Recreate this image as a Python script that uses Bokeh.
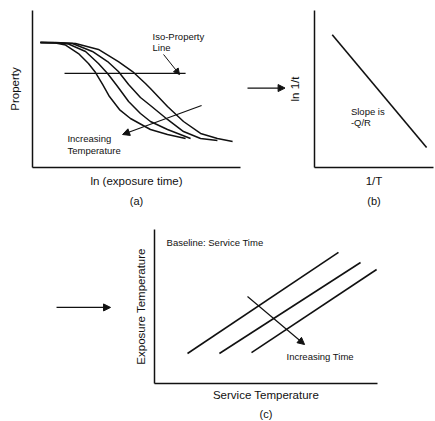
from bokeh.plotting import figure
from bokeh.layouts import column, row
from bokeh.models import Range1d, Arrow, NormalHead, Title, FixedTicker
from bokeh.core.properties import value
from bokeh.embed import file_html
from bokeh.resources import INLINE

FONT = "Liberation Sans"
INK = "#111111"

# ---------------- Panel (a): property vs ln(exposure time) ----------------
curve1_x = [0.38, 1.11, 1.59, 2.21, 2.69, 3.03, 3.37, 3.70, 4.18, 4.71, 5.67, 6.49, 7.36]
curve1_y = [7.96, 7.93, 7.80, 7.26, 6.62, 6.05, 5.29, 4.52, 3.69, 3.12, 2.42, 2.10, 1.85]
curve2_x = [0.38, 1.11, 1.73, 2.55, 3.17, 3.61, 4.09, 4.62, 5.19, 5.67, 6.49, 7.60]
curve2_y = [7.96, 7.94, 7.87, 7.39, 6.62, 5.99, 5.16, 4.20, 3.44, 2.93, 2.42, 1.85]
curve3_x = [0.38, 1.11, 1.92, 2.88, 3.61, 4.13, 4.62, 5.19, 5.67, 6.49, 7.26, 8.08, 8.89]
curve3_y = [7.96, 7.95, 7.90, 7.39, 6.75, 6.11, 5.29, 4.46, 3.95, 3.06, 2.29, 1.85, 1.72]
curve4_x = [0.38, 1.11, 2.07, 3.17, 4.13, 4.81, 5.43, 5.67, 6.49, 7.26, 8.08, 8.89, 9.62]
curve4_y = [7.96, 7.96, 7.90, 7.52, 6.75, 6.11, 5.35, 5.03, 3.89, 2.93, 2.17, 1.85, 1.66]
curves_a = [(curve1_x, curve1_y), (curve2_x, curve2_y), (curve3_x, curve3_y), (curve4_x, curve4_y)]

iso_x = [1.54, 7.36]
iso_y = [5.99, 5.99]
iso_arrow = [6.30, 7.20, 7.07, 5.92]          # x0, y0, x1, y1
temp_arrow = [8.13, 3.95, 4.33, 2.10]
labels_a_x = [5.77, 5.77, 1.68, 1.68]
labels_a_y = [8.34, 7.64, 1.85, 1.08]
labels_a_text = ["Iso-Property", "Line", "Increasing", "Temperature"]

# ---------------- Panel (b): ln 1/t vs 1/T ----------------
arrh_x = [1.49, 9.42]
arrh_y = [8.46, 1.28]
labels_b_x = [3.06, 3.06]
labels_b_y = [3.59, 2.88]
labels_b_text = ["Slope is", "-Q/R"]

# ---------------- Panel (c): exposure vs service temperature ----------------
line1_x = [1.48, 8.25]
line1_y = [1.95, 8.51]
line2_x = [2.91, 9.24]
line2_y = [1.95, 7.86]
line3_x = [4.35, 9.96]
line3_y = [2.01, 7.40]
time_arrow = [4.17, 5.65, 6.73, 2.53]
labels_c_x = [0.54, 5.92]
labels_c_y = [9.16, 1.75]
labels_c_text = ["Baseline:  Service Time", "Increasing Time"]

# connector arrows between panels (same 0-10 units as the neighbouring panel)
conn1 = [0.5, 5.06, 9.9, 5.06]
conn2 = [4.67, 4.94, 9.17, 4.94]


def panel(width, height, left, right, top, bottom, xlabel, ylabel, xstand, ystand, caption, capstand):
    p = figure(width=width, height=height, x_range=Range1d(0, 10), y_range=Range1d(0, 10),
               toolbar_location=None, output_backend="svg", title=None,
               min_border_left=left, min_border_right=right,
               min_border_top=top, min_border_bottom=bottom)
    p.outline_line_color = None
    p.grid.visible = False
    for ax, lab, st in ((p.xaxis[0], xlabel, xstand), (p.yaxis[0], ylabel, ystand)):
        ax.ticker = FixedTicker(ticks=[])
        ax.major_tick_line_color = None
        ax.minor_tick_line_color = None
        ax.major_tick_in = 0
        ax.major_tick_out = 0
        ax.minor_tick_in = 0
        ax.minor_tick_out = 0
        ax.major_label_text_font_size = "0px"
        ax.major_label_standoff = 0
        ax.axis_line_width = 1.5
        ax.axis_line_color = INK
        ax.axis_label = lab
        ax.axis_label_standoff = st
        ax.axis_label_text_font = FONT
        ax.axis_label_text_font_style = "normal"
        ax.axis_label_text_font_size = "11.5px"
        ax.axis_label_text_color = INK
    p.add_layout(Title(text=caption, align="center", text_font=FONT, text_font_size="11px",
                       text_font_style="normal", text_color=INK, standoff=capstand), "below")
    return p


def add_arrow(p, a, width=1.2, size=7):
    p.add_layout(Arrow(end=NormalHead(size=size, fill_color=INK, line_color=INK, line_width=1),
                       x_start=a[0], y_start=a[1], x_end=a[2], y_end=a[3],
                       line_color=INK, line_width=width))


def add_texts(p, xs, ys, texts, size="9.5px"):
    p.text(x=xs, y=ys, text=texts, text_font=value(FONT), text_font_size=size,
           text_align="left", text_baseline="middle", text_color=INK)


def connector(width, height, a):
    p = figure(width=width, height=height, x_range=Range1d(0, 10), y_range=Range1d(0, 10),
               toolbar_location=None, output_backend="svg", x_axis_type=None, y_axis_type=None,
               title=None, min_border=0, min_border_left=0, min_border_right=0,
               min_border_top=0, min_border_bottom=0)
    p.outline_line_color = None
    p.grid.visible = False
    add_arrow(p, a, width=1.3, size=7)
    return p


# panel a
pa = panel(245, 212, 32, 5, 9, 45, "ln (exposure time)", "Property", 7, 12, "(a)", 6)
for cx, cy in curves_a:
    pa.line(cx, cy, line_color=INK, line_width=1.5)
pa.line(iso_x, iso_y, line_color=INK, line_width=1.3)
add_arrow(pa, iso_arrow, width=1.0, size=6)
add_arrow(pa, temp_arrow, width=1.2, size=7)
add_texts(pa, labels_a_x, labels_a_y, labels_a_text)

# panel b
pb = panel(150, 212, 28, 2, 10, 45, "1/T", "ln 1/t", 7, 14, "(b)", 6)
pb.line(arrh_x, arrh_y, line_color=INK, line_width=1.6)
add_texts(pb, labels_b_x, labels_b_y, labels_b_text)

# panel c
pc = panel(315, 209, 34, 58, 17, 38, "Service Temperature", "Exposure Temperature", 5, 8, "(c)", 4)
for lx, ly in ((line1_x, line1_y), (line2_x, line2_y), (line3_x, line3_y)):
    pc.line(lx, ly, line_color=INK, line_width=1.6)
add_arrow(pc, time_arrow, width=1.2, size=7)
add_texts(pc, labels_c_x, labels_c_y, labels_c_text)

ca = connector(40, 212, conn1)
cc = connector(120, 209, conn2)

layout = column(row(pa, ca, pb), row(cc, pc))

open("out.html", "w").write(file_html(layout, INLINE))
